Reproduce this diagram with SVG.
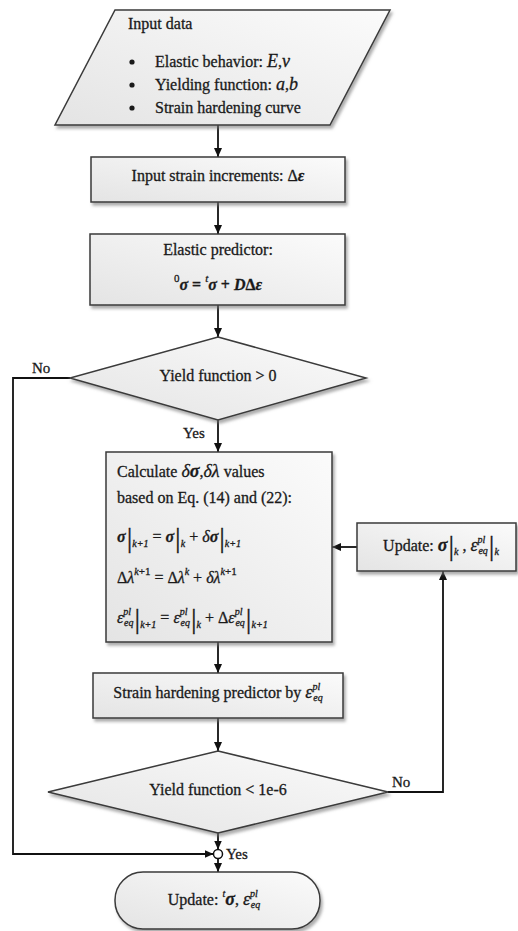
<svg xmlns="http://www.w3.org/2000/svg" width="518" height="931" viewBox="0 0 518 931">
<defs>
<linearGradient id="g" x1="0" y1="1" x2="1" y2="0">
<stop offset="0" stop-color="#e4e4e4"/>
<stop offset="1" stop-color="#fbfbfb"/>
</linearGradient>
<filter id="sh" x="-10%" y="-10%" width="125%" height="135%">
<feDropShadow dx="2" dy="3" stdDeviation="1.5" flood-color="#777" flood-opacity="0.6"/>
</filter>
<marker id="arr" markerUnits="userSpaceOnUse" markerWidth="9" markerHeight="8" refX="9" refY="4" orient="auto">
<path d="M0,0 L9,4 L0,8 z" fill="#111"/>
</marker>
</defs>
<style>
.shape{fill:url(#g);stroke:#3a3a3a;stroke-width:1.5;filter:url(#sh)}
.t{font-family:"Liberation Serif","Times New Roman",serif;font-size:16px;fill:#1a1a1a;stroke:#1a1a1a;stroke-width:0.3}
.i{font-style:italic}
.bi{font-style:italic;font-weight:bold}
.sm{font-size:10px;font-style:italic;font-weight:normal}
.bar{font-size:28px;font-weight:normal;font-style:normal}
.conn{fill:none;stroke:#111;stroke-width:1.8}
.lbl{font-family:"Liberation Serif","Times New Roman",serif;font-size:15px;fill:#1a1a1a;stroke:#1a1a1a;stroke-width:0.3}
</style>
<rect width="518" height="931" fill="#ffffff"/>

<g id="connectors">
<path class="conn" d="M218,125 V157" marker-end="url(#arr)"/>
<path class="conn" d="M218,202 V234" marker-end="url(#arr)"/>
<path class="conn" d="M218,305 V337" marker-end="url(#arr)"/>
<path class="conn" d="M218,420 V452" marker-end="url(#arr)"/>
<path class="conn" d="M218,642 V673" marker-end="url(#arr)"/>
<path class="conn" d="M218,718 V751" marker-end="url(#arr)"/>
<path class="conn" d="M218,833 V849.5" marker-end="url(#arr)"/>
<path class="conn" d="M218,858.5 V872" marker-end="url(#arr)"/>
<path class="conn" d="M70,378 H13 V854 H213.5" marker-end="url(#arr)"/>
<path class="conn" d="M388,792 H443 V571" marker-end="url(#arr)"/>
<path class="conn" d="M357,547 H332" marker-end="url(#arr)"/>
<text class="lbl" x="32" y="373">No</text>
<text class="lbl" x="183" y="438">Yes</text>
<text class="lbl" x="392" y="787">No</text>
<text class="lbl" x="226" y="859">Yes</text>
</g>

<g id="input-data">
<polygon class="shape" points="115,10 390,10 330,125 55,125"/>
<text class="t" x="128" y="29">Input data</text>
<circle cx="132" cy="62" r="2.6" fill="#1a1a1a"/>
<circle cx="132" cy="85" r="2.6" fill="#1a1a1a"/>
<circle cx="132" cy="108" r="2.6" fill="#1a1a1a"/>
<text class="t" x="155" y="67">Elastic behavior:  <tspan class="i" font-size="18">E</tspan>,<tspan class="i" font-size="18">ν</tspan></text>
<text class="t" x="155" y="90">Yielding function: <tspan class="i" font-size="18">a</tspan>,<tspan class="i" font-size="18">b</tspan></text>
<text class="t" x="155" y="113">Strain hardening curve</text>
</g>

<g id="strain-increments">
<rect class="shape" x="91" y="157" width="254" height="45"/>
<text class="t" x="218" y="181" text-anchor="middle">Input strain increments: Δ<tspan class="bi">ε</tspan></text>
</g>

<g id="elastic-predictor">
<rect class="shape" x="90" y="234" width="255" height="71"/>
<text class="t" x="218" y="255" text-anchor="middle">Elastic predictor:</text>
<text class="t" x="218" y="290" text-anchor="middle" font-size="19" font-weight="bold"><tspan font-size="11" font-weight="normal" dy="-8">0</tspan><tspan class="bi" dy="8">σ</tspan><tspan> = </tspan><tspan font-size="11" class="i" font-weight="normal" dy="-8">t</tspan><tspan class="bi" dy="8">σ</tspan><tspan> + </tspan><tspan class="bi">D</tspan><tspan>Δ</tspan><tspan class="bi">ε</tspan></text>
</g>

<g id="yield-check-1">
<polygon class="shape" points="218,337 366,378 218,420 70,378"/>
<text class="t" x="218" y="381" text-anchor="middle">Yield function &gt; 0</text>
</g>

<g id="calculate">
<rect class="shape" x="106" y="452" width="226" height="190"/>
<text class="t" x="117" y="477">Calculate <tspan class="i" font-size="18">δ</tspan><tspan class="bi" font-size="18">σ</tspan>,<tspan class="i" font-size="18">δλ</tspan> values</text>
<text class="t" x="117" y="503">based on Eq. (14) and (22):</text>
<text class="t" x="117" y="542" font-size="18"><tspan class="bi">σ</tspan><tspan class="bar" dx="1" dy="5">|</tspan><tspan class="sm">k</tspan><tspan class="sm" font-style="normal">+1</tspan><tspan dy="-5"> = </tspan><tspan class="bi">σ</tspan><tspan class="bar" dx="1" dy="5">|</tspan><tspan class="sm">k</tspan><tspan dy="-5"> + </tspan><tspan class="i">δ</tspan><tspan class="bi">σ</tspan><tspan class="bar" dx="1" dy="5">|</tspan><tspan class="sm">k</tspan><tspan class="sm" font-style="normal">+1</tspan></text>
<text class="t" x="117" y="583" font-size="18"><tspan>Δ</tspan><tspan class="i">λ</tspan><tspan class="sm" font-size="11" dy="-8">k</tspan><tspan font-size="11">+1</tspan><tspan dy="8"> = Δ</tspan><tspan class="i">λ</tspan><tspan class="sm" font-size="11" dy="-8">k</tspan><tspan dy="8"> + </tspan><tspan class="i">δλ</tspan><tspan class="sm" font-size="11" dy="-8">k</tspan><tspan font-size="11">+1</tspan></text>
<text class="t" x="117" y="623" font-size="18"><tspan class="i">ε</tspan><tspan class="sm" dy="-8">pl</tspan><tspan class="sm" dx="-7" dy="11">eq</tspan><tspan class="bar" dx="1" dy="2">|</tspan><tspan class="sm">k</tspan><tspan class="sm" font-style="normal">+1</tspan><tspan dy="-5"> = </tspan><tspan class="i">ε</tspan><tspan class="sm" dy="-8">pl</tspan><tspan class="sm" dx="-7" dy="11">eq</tspan><tspan class="bar" dx="1" dy="2">|</tspan><tspan class="sm">k</tspan><tspan dy="-5"> + Δ</tspan><tspan class="i">ε</tspan><tspan class="sm" dy="-8">pl</tspan><tspan class="sm" dx="-7" dy="11">eq</tspan><tspan class="bar" dx="1" dy="2">|</tspan><tspan class="sm">k</tspan><tspan class="sm" font-style="normal">+1</tspan></text>
</g>

<g id="update-state">
<rect class="shape" x="357" y="523" width="159" height="48"/>
<text class="t" x="441" y="551" text-anchor="middle">Update: <tspan class="bi" font-size="18">σ</tspan><tspan class="bar" font-size="24" dx="1" dy="4">|</tspan><tspan class="sm">k</tspan><tspan dy="-4"> , </tspan><tspan class="i" font-size="18">ε</tspan><tspan class="sm" dy="-8">pl</tspan><tspan class="sm" dx="-7" dy="11">eq</tspan><tspan class="bar" font-size="24" dx="1" dy="1">|</tspan><tspan class="sm">k</tspan></text>
</g>

<g id="hardening-predictor">
<rect class="shape" x="93" y="673" width="250" height="45"/>
<text class="t" x="218" y="698" text-anchor="middle">Strain hardening predictor by  <tspan class="i" font-size="18">ε</tspan><tspan class="sm" dy="-8">pl</tspan><tspan class="sm" dx="-7" dy="11">eq</tspan></text>
</g>

<g id="yield-check-2">
<polygon class="shape" points="218,751 388,792 218,833 48,792"/>
<text class="t" x="218" y="795" text-anchor="middle">Yield function &lt; 1e-6</text>
</g>

<g id="merge-point">
<circle cx="218" cy="854" r="4.5" fill="#ffffff" stroke="#111" stroke-width="1.5"/>
</g>

<g id="update-output">
<rect class="shape" x="115" y="872" width="205" height="57" rx="28" ry="28"/>
<text class="t" x="214" y="905" text-anchor="middle">Update: <tspan class="sm" font-size="11" dy="-8">t</tspan><tspan class="bi" font-size="18" dy="8">σ</tspan>, <tspan class="i" font-size="18">ε</tspan><tspan class="sm" dy="-8">pl</tspan><tspan class="sm" dx="-7" dy="11">eq</tspan></text>
</g>
</svg>
